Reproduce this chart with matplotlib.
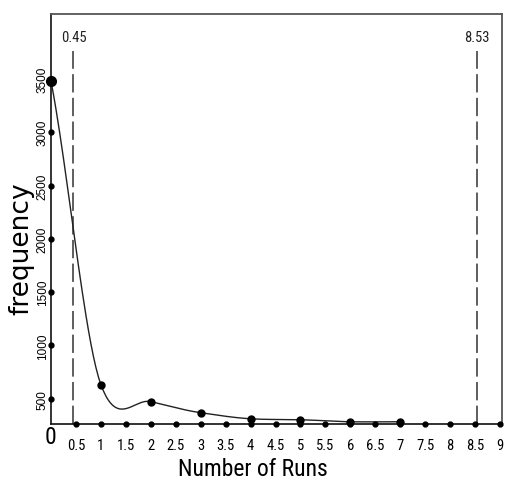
import numpy as np
import matplotlib
matplotlib.use("Agg")
import matplotlib.pyplot as plt

# Data
runs = [0, 1, 2, 3, 4, 5, 6, 7]
frequency = [3480, 632, 472, 368, 311, 302, 283, 283]
x_ticks = [0.5, 1, 1.5, 2, 2.5, 3, 3.5, 4, 4.5, 5, 5.5, 6, 6.5, 7, 7.5, 8, 8.5, 9]
x_tick_labels = ["0.5", "1", "1.5", "2", "2.5", "3", "3.5", "4", "4.5", "5", "5.5",
                 "6", "6.5", "7", "7.5", "8", "8.5", "9"]
y_ticks = [500, 1000, 1500, 2000, 2500, 3000, 3500]
y_tick_labels = ["500", "1000", "1500", "2000", "2500", "3000", "3500"]
limits = [0.45, 8.53]
limit_labels = ["0.45", "8.53"]

NARROW = ["Roboto Condensed", "Liberation Sans", "DejaVu Sans"]
YMIN, YMAX = 262, 4110


def smooth_curve(x, y, n=40, k=0.85):
    """Catmull-Rom style smoothing between the given points (drawing only)."""
    x = np.asarray(x, float)
    y = np.asarray(y, float)
    m = np.zeros_like(y)
    m[0] = (y[1] - y[0]) / (x[1] - x[0])
    m[-1] = (y[-1] - y[-2]) / (x[-1] - x[-2])
    m[1:-1] = (y[2:] - y[:-2]) / (x[2:] - x[:-2])
    m *= k
    xs, ys = [], []
    for i in range(len(x) - 1):
        h = x[i + 1] - x[i]
        t = np.linspace(0, 1, n, endpoint=(i == len(x) - 2))
        h00 = 2 * t**3 - 3 * t**2 + 1
        h10 = t**3 - 2 * t**2 + t
        h01 = -2 * t**3 + 3 * t**2
        h11 = t**3 - t**2
        xs.append(x[i] + t * h)
        ys.append(h00 * y[i] + h10 * h * m[i] + h01 * y[i + 1] + h11 * h * m[i + 1])
    return np.concatenate(xs), np.concatenate(ys)


fig = plt.figure(figsize=(5.05, 4.89), dpi=100)
ax = fig.add_axes([51 / 505, 1 - 425 / 489, 451 / 505, 410 / 489])
ax.set_xlim(0, 9.04)
ax.set_ylim(YMIN, YMAX)

sx, sy = smooth_curve(runs, frequency)
ax.plot(sx, sy, color="#222222", lw=1.0, zorder=3)
ax.plot(runs, frequency, "o", color="black", ms=5, zorder=4, clip_on=False)
ax.plot(runs[0], frequency[0], "o", color="black", ms=7, zorder=4, clip_on=False)

# limit lines
for v, lab in zip(limits, limit_labels):
    ax.plot([v, v], [YMIN, 3760], color="#333333", lw=1.1, dashes=(12, 3.5))
    ax.text(v, 3892, lab, ha="center", va="center", fontsize=10.5, family=NARROW, color="#222222")

# spines
for s in ["top", "right"]:
    ax.spines[s].set_color("#555555")
    ax.spines[s].set_linewidth(1.3)
for s in ["left", "bottom"]:
    ax.spines[s].set_color("#111111")
    ax.spines[s].set_linewidth(1.2)

# ticks as dots on the axes
ax.set_xticks(x_ticks)
ax.set_xticklabels(x_tick_labels, family=NARROW, fontsize=10.5)
ax.set_yticks(y_ticks)
ax.set_yticklabels(y_tick_labels, family=["Liberation Sans", "DejaVu Sans"], fontsize=8.5,
                   rotation=90, va="center")
ax.tick_params(axis="x", length=0, pad=10)
ax.tick_params(axis="y", length=0, pad=1.5)
ax.plot(x_ticks, [YMIN] * len(x_ticks), "o", color="black", ms=3.5, clip_on=False, zorder=5)
ax.plot([0] * len(y_ticks), y_ticks, "o", color="black", ms=3.5, clip_on=False, zorder=5)

fig.text(50 / 505, 1 - 438 / 489, "0", ha="center", va="center", fontsize=17, family=NARROW)

fig.text(21 / 505, 1 - 249 / 489, "frequency", rotation=90, ha="center", va="center",
         fontsize=19, family=["DejaVu Sans"])
fig.text(253 / 505, 1 - 470 / 489, "Number of Runs", ha="center", va="center",
         fontsize=17, family=NARROW)

fig.savefig("out.png", dpi=100)
